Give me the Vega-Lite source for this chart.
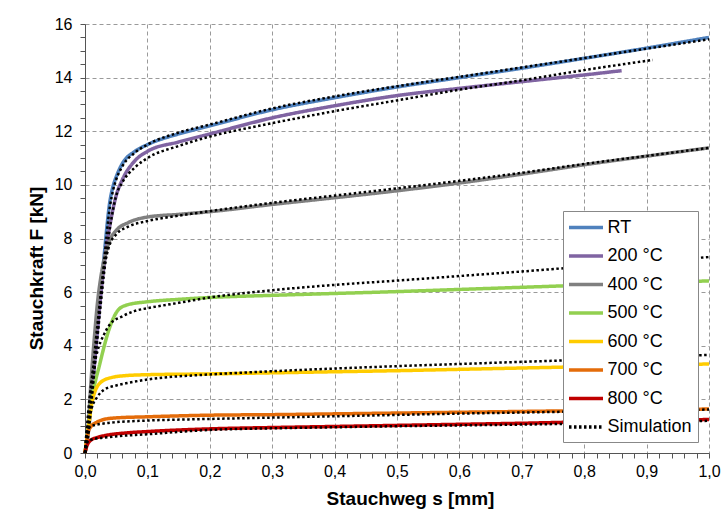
{
  "$schema": "https://vega.github.io/schema/vega-lite/v6.json",
  "width": 624,
  "height": 429,
  "autosize": {"type": "none"},
  "padding": {"left": 85, "top": 24, "right": 14, "bottom": 67},
  "background": "white",
  "config": {
    "view": {"stroke": null},
    "font": "Liberation Sans"
  },
  "datasets": {
    "exp": [
      {"series":"RT","s":0,"F":0},{"series":"RT","s":0.005,"F":0.9},{"series":"RT","s":0.01,"F":2.1},{"series":"RT","s":0.02,"F":4.7},{"series":"RT","s":0.03,"F":7.2},{"series":"RT","s":0.04,"F":9.4},{"series":"RT","s":0.045,"F":9.95},{"series":"RT","s":0.05,"F":10.3},{"series":"RT","s":0.06,"F":10.8},{"series":"RT","s":0.08,"F":11.25},{"series":"RT","s":0.1,"F":11.5},{"series":"RT","s":0.15,"F":11.9},{"series":"RT","s":0.2,"F":12.2},{"series":"RT","s":0.3,"F":12.8},{"series":"RT","s":0.4,"F":13.25},{"series":"RT","s":0.5,"F":13.65},{"series":"RT","s":0.6,"F":14.0},{"series":"RT","s":0.7,"F":14.35},{"series":"RT","s":0.8,"F":14.72},{"series":"RT","s":0.9,"F":15.1},{"series":"RT","s":1.0,"F":15.5},
      {"series":"200 °C","s":0,"F":0},{"series":"200 °C","s":0.005,"F":0.7},{"series":"200 °C","s":0.01,"F":1.9},{"series":"200 °C","s":0.02,"F":4.6},{"series":"200 °C","s":0.03,"F":6.9},{"series":"200 °C","s":0.04,"F":8.5},{"series":"200 °C","s":0.05,"F":9.6},{"series":"200 °C","s":0.06,"F":10.2},{"series":"200 °C","s":0.08,"F":10.9},{"series":"200 °C","s":0.1,"F":11.25},{"series":"200 °C","s":0.15,"F":11.6},{"series":"200 °C","s":0.2,"F":11.9},{"series":"200 °C","s":0.3,"F":12.5},{"series":"200 °C","s":0.4,"F":12.95},{"series":"200 °C","s":0.5,"F":13.33},{"series":"200 °C","s":0.6,"F":13.6},{"series":"200 °C","s":0.7,"F":13.85},{"series":"200 °C","s":0.8,"F":14.1},{"series":"200 °C","s":0.86,"F":14.26},
      {"series":"400 °C","s":0,"F":0},{"series":"400 °C","s":0.005,"F":1.0},{"series":"400 °C","s":0.01,"F":2.8},{"series":"400 °C","s":0.015,"F":4.3},{"series":"400 °C","s":0.02,"F":5.6},{"series":"400 °C","s":0.025,"F":6.5},{"series":"400 °C","s":0.03,"F":7.15},{"series":"400 °C","s":0.035,"F":7.6},{"series":"400 °C","s":0.04,"F":7.95},{"series":"400 °C","s":0.05,"F":8.3},{"series":"400 °C","s":0.07,"F":8.6},{"series":"400 °C","s":0.1,"F":8.8},{"series":"400 °C","s":0.15,"F":8.9},{"series":"400 °C","s":0.2,"F":9.0},{"series":"400 °C","s":0.3,"F":9.27},{"series":"400 °C","s":0.4,"F":9.52},{"series":"400 °C","s":0.5,"F":9.78},{"series":"400 °C","s":0.6,"F":10.07},{"series":"400 °C","s":0.7,"F":10.4},{"series":"400 °C","s":0.8,"F":10.75},{"series":"400 °C","s":0.9,"F":11.07},{"series":"400 °C","s":1.0,"F":11.38},
      {"series":"500 °C","s":0,"F":0},{"series":"500 °C","s":0.005,"F":0.9},{"series":"500 °C","s":0.011,"F":1.98},{"series":"500 °C","s":0.024,"F":3.35},{"series":"500 °C","s":0.04,"F":4.71},{"series":"500 °C","s":0.053,"F":5.33},{"series":"500 °C","s":0.067,"F":5.52},{"series":"500 °C","s":0.1,"F":5.64},{"series":"500 °C","s":0.15,"F":5.73},{"series":"500 °C","s":0.2,"F":5.8},{"series":"500 °C","s":0.3,"F":5.88},{"series":"500 °C","s":0.4,"F":5.95},{"series":"500 °C","s":0.5,"F":6.02},{"series":"500 °C","s":0.6,"F":6.1},{"series":"500 °C","s":0.7,"F":6.18},{"series":"500 °C","s":0.8,"F":6.26},{"series":"500 °C","s":0.9,"F":6.34},{"series":"500 °C","s":1.0,"F":6.42},
      {"series":"600 °C","s":0,"F":0},{"series":"600 °C","s":0.003,"F":0.48},{"series":"600 °C","s":0.011,"F":1.86},{"series":"600 °C","s":0.024,"F":2.61},{"series":"600 °C","s":0.04,"F":2.8},{"series":"600 °C","s":0.067,"F":2.89},{"series":"600 °C","s":0.1,"F":2.92},{"series":"600 °C","s":0.2,"F":2.95},{"series":"600 °C","s":0.3,"F":2.99},{"series":"600 °C","s":0.4,"F":3.03},{"series":"600 °C","s":0.5,"F":3.07},{"series":"600 °C","s":0.6,"F":3.12},{"series":"600 °C","s":0.7,"F":3.17},{"series":"600 °C","s":0.8,"F":3.22},{"series":"600 °C","s":0.9,"F":3.27},{"series":"600 °C","s":1.0,"F":3.32},
      {"series":"700 °C","s":0,"F":0},{"series":"700 °C","s":0.002,"F":0.3},{"series":"700 °C","s":0.005,"F":0.77},{"series":"700 °C","s":0.01,"F":1.0},{"series":"700 °C","s":0.019,"F":1.15},{"series":"700 °C","s":0.03,"F":1.25},{"series":"700 °C","s":0.05,"F":1.31},{"series":"700 °C","s":0.1,"F":1.35},{"series":"700 °C","s":0.2,"F":1.41},{"series":"700 °C","s":0.3,"F":1.43},{"series":"700 °C","s":0.4,"F":1.46},{"series":"700 °C","s":0.5,"F":1.49},{"series":"700 °C","s":0.6,"F":1.52},{"series":"700 °C","s":0.7,"F":1.55},{"series":"700 °C","s":0.8,"F":1.58},{"series":"700 °C","s":0.9,"F":1.61},{"series":"700 °C","s":1.0,"F":1.64},
      {"series":"800 °C","s":0,"F":0},{"series":"800 °C","s":0.002,"F":0.2},{"series":"800 °C","s":0.01,"F":0.49},{"series":"800 °C","s":0.02,"F":0.58},{"series":"800 °C","s":0.032,"F":0.65},{"series":"800 °C","s":0.067,"F":0.75},{"series":"800 °C","s":0.1,"F":0.8},{"series":"800 °C","s":0.2,"F":0.9},{"series":"800 °C","s":0.3,"F":0.95},{"series":"800 °C","s":0.4,"F":0.99},{"series":"800 °C","s":0.5,"F":1.03},{"series":"800 °C","s":0.6,"F":1.07},{"series":"800 °C","s":0.7,"F":1.11},{"series":"800 °C","s":0.8,"F":1.16},{"series":"800 °C","s":0.9,"F":1.2},{"series":"800 °C","s":1.0,"F":1.25}
    ],
    "sim": [
      {"series":"Simulation","case":"RT","s":0,"F":0},{"series":"Simulation","case":"RT","s":0.005,"F":0.8},{"series":"Simulation","case":"RT","s":0.01,"F":2.0},{"series":"Simulation","case":"RT","s":0.02,"F":4.5},{"series":"Simulation","case":"RT","s":0.03,"F":7.0},{"series":"Simulation","case":"RT","s":0.04,"F":9.2},{"series":"Simulation","case":"RT","s":0.045,"F":9.8},{"series":"Simulation","case":"RT","s":0.05,"F":10.2},{"series":"Simulation","case":"RT","s":0.06,"F":10.7},{"series":"Simulation","case":"RT","s":0.08,"F":11.2},{"series":"Simulation","case":"RT","s":0.1,"F":11.5},{"series":"Simulation","case":"RT","s":0.15,"F":11.95},{"series":"Simulation","case":"RT","s":0.2,"F":12.25},{"series":"Simulation","case":"RT","s":0.3,"F":12.85},{"series":"Simulation","case":"RT","s":0.4,"F":13.3},{"series":"Simulation","case":"RT","s":0.5,"F":13.68},{"series":"Simulation","case":"RT","s":0.6,"F":14.03},{"series":"Simulation","case":"RT","s":0.7,"F":14.38},{"series":"Simulation","case":"RT","s":0.8,"F":14.73},{"series":"Simulation","case":"RT","s":0.9,"F":15.08},{"series":"Simulation","case":"RT","s":1.0,"F":15.43},
      {"series":"Simulation","case":"200","s":0,"F":0},{"series":"Simulation","case":"200","s":0.005,"F":0.6},{"series":"Simulation","case":"200","s":0.01,"F":1.8},{"series":"Simulation","case":"200","s":0.02,"F":4.3},{"series":"Simulation","case":"200","s":0.03,"F":6.6},{"series":"Simulation","case":"200","s":0.04,"F":8.4},{"series":"Simulation","case":"200","s":0.05,"F":9.6},{"series":"Simulation","case":"200","s":0.06,"F":10.1},{"series":"Simulation","case":"200","s":0.08,"F":10.65},{"series":"Simulation","case":"200","s":0.1,"F":11.0},{"series":"Simulation","case":"200","s":0.15,"F":11.45},{"series":"Simulation","case":"200","s":0.2,"F":11.8},{"series":"Simulation","case":"200","s":0.3,"F":12.3},{"series":"Simulation","case":"200","s":0.4,"F":12.75},{"series":"Simulation","case":"200","s":0.5,"F":13.15},{"series":"Simulation","case":"200","s":0.6,"F":13.55},{"series":"Simulation","case":"200","s":0.7,"F":13.9},{"series":"Simulation","case":"200","s":0.8,"F":14.28},{"series":"Simulation","case":"200","s":0.91,"F":14.66},
      {"series":"Simulation","case":"400","s":0,"F":0},{"series":"Simulation","case":"400","s":0.005,"F":1.1},{"series":"Simulation","case":"400","s":0.01,"F":2.4},{"series":"Simulation","case":"400","s":0.02,"F":4.8},{"series":"Simulation","case":"400","s":0.03,"F":6.8},{"series":"Simulation","case":"400","s":0.04,"F":7.8},{"series":"Simulation","case":"400","s":0.05,"F":8.15},{"series":"Simulation","case":"400","s":0.07,"F":8.45},{"series":"Simulation","case":"400","s":0.1,"F":8.65},{"series":"Simulation","case":"400","s":0.15,"F":8.85},{"series":"Simulation","case":"400","s":0.2,"F":9.02},{"series":"Simulation","case":"400","s":0.3,"F":9.33},{"series":"Simulation","case":"400","s":0.4,"F":9.6},{"series":"Simulation","case":"400","s":0.5,"F":9.87},{"series":"Simulation","case":"400","s":0.6,"F":10.15},{"series":"Simulation","case":"400","s":0.7,"F":10.45},{"series":"Simulation","case":"400","s":0.8,"F":10.78},{"series":"Simulation","case":"400","s":0.9,"F":11.08},{"series":"Simulation","case":"400","s":1.0,"F":11.38},
      {"series":"Simulation","case":"500","s":0,"F":0},{"series":"Simulation","case":"500","s":0.005,"F":1.5},{"series":"Simulation","case":"500","s":0.01,"F":2.6},{"series":"Simulation","case":"500","s":0.02,"F":3.8},{"series":"Simulation","case":"500","s":0.03,"F":4.4},{"series":"Simulation","case":"500","s":0.04,"F":4.8},{"series":"Simulation","case":"500","s":0.06,"F":5.1},{"series":"Simulation","case":"500","s":0.08,"F":5.3},{"series":"Simulation","case":"500","s":0.1,"F":5.4},{"series":"Simulation","case":"500","s":0.15,"F":5.6},{"series":"Simulation","case":"500","s":0.2,"F":5.8},{"series":"Simulation","case":"500","s":0.3,"F":6.07},{"series":"Simulation","case":"500","s":0.4,"F":6.27},{"series":"Simulation","case":"500","s":0.5,"F":6.43},{"series":"Simulation","case":"500","s":0.6,"F":6.6},{"series":"Simulation","case":"500","s":0.7,"F":6.77},{"series":"Simulation","case":"500","s":0.8,"F":6.95},{"series":"Simulation","case":"500","s":0.9,"F":7.13},{"series":"Simulation","case":"500","s":1.0,"F":7.31},
      {"series":"Simulation","case":"600","s":0,"F":0},{"series":"Simulation","case":"600","s":0.005,"F":1.0},{"series":"Simulation","case":"600","s":0.01,"F":1.6},{"series":"Simulation","case":"600","s":0.02,"F":2.1},{"series":"Simulation","case":"600","s":0.03,"F":2.35},{"series":"Simulation","case":"600","s":0.05,"F":2.52},{"series":"Simulation","case":"600","s":0.07,"F":2.62},{"series":"Simulation","case":"600","s":0.1,"F":2.74},{"series":"Simulation","case":"600","s":0.2,"F":2.93},{"series":"Simulation","case":"600","s":0.3,"F":3.05},{"series":"Simulation","case":"600","s":0.4,"F":3.15},{"series":"Simulation","case":"600","s":0.5,"F":3.24},{"series":"Simulation","case":"600","s":0.6,"F":3.32},{"series":"Simulation","case":"600","s":0.7,"F":3.4},{"series":"Simulation","case":"600","s":0.8,"F":3.48},{"series":"Simulation","case":"600","s":0.9,"F":3.57},{"series":"Simulation","case":"600","s":1.0,"F":3.66},
      {"series":"Simulation","case":"700","s":0,"F":0},{"series":"Simulation","case":"700","s":0.003,"F":0.8},{"series":"Simulation","case":"700","s":0.01,"F":1.0},{"series":"Simulation","case":"700","s":0.03,"F":1.1},{"series":"Simulation","case":"700","s":0.05,"F":1.15},{"series":"Simulation","case":"700","s":0.1,"F":1.21},{"series":"Simulation","case":"700","s":0.2,"F":1.27},{"series":"Simulation","case":"700","s":0.3,"F":1.32},{"series":"Simulation","case":"700","s":0.4,"F":1.37},{"series":"Simulation","case":"700","s":0.5,"F":1.42},{"series":"Simulation","case":"700","s":0.6,"F":1.47},{"series":"Simulation","case":"700","s":0.7,"F":1.51},{"series":"Simulation","case":"700","s":0.8,"F":1.55},{"series":"Simulation","case":"700","s":0.9,"F":1.59},{"series":"Simulation","case":"700","s":1.0,"F":1.62},
      {"series":"Simulation","case":"800","s":0,"F":0},{"series":"Simulation","case":"800","s":0.003,"F":0.4},{"series":"Simulation","case":"800","s":0.01,"F":0.5},{"series":"Simulation","case":"800","s":0.04,"F":0.6},{"series":"Simulation","case":"800","s":0.1,"F":0.7},{"series":"Simulation","case":"800","s":0.2,"F":0.86},{"series":"Simulation","case":"800","s":0.3,"F":0.92},{"series":"Simulation","case":"800","s":0.4,"F":0.96},{"series":"Simulation","case":"800","s":0.5,"F":1.0},{"series":"Simulation","case":"800","s":0.6,"F":1.03},{"series":"Simulation","case":"800","s":0.7,"F":1.06},{"series":"Simulation","case":"800","s":0.8,"F":1.1},{"series":"Simulation","case":"800","s":0.9,"F":1.15},{"series":"Simulation","case":"800","s":1.0,"F":1.2}
    ]
  },
  "encoding": {
    "x": {
      "field": "s", "type": "quantitative",
      "scale": {"domain": [0, 1], "nice": false, "zero": false},
      "axis": {
        "title": "Stauchweg  s [mm]",
        "values": [0,0.02,0.04,0.06,0.08,0.1,0.12,0.14,0.16,0.18,0.2,0.22,0.24,0.26,0.28,0.3,0.32,0.34,0.36,0.38,0.4,0.42,0.44,0.46,0.48,0.5,0.52,0.54,0.56,0.58,0.6,0.62,0.64,0.66,0.68,0.7,0.72,0.74,0.76,0.78,0.8,0.82,0.84,0.86,0.88,0.9,0.92,0.94,0.96,0.98,1.0],
        "labelExpr": "abs(datum.value*10 - round(datum.value*10)) < 0.001 ? replace(format(datum.value, '.1f'), '.', ',') : ''",
        "labelOverlap": false, "labelFlush": false, "labelBound": false,
        "labelFont": "Liberation Sans", "labelFontSize": 16, "labelColor": "#000", "labelPadding": 5,
        "tickSize": 5, "tickColor": "#555", "domainColor": "#555",
        "grid": true, "gridDash": [4, 3], "gridColor": "#9a9a9a", "gridWidth": 1,
        "gridOpacity": {"condition": {"test": "abs(datum.value*10 - round(datum.value*10)) < 0.001", "value": 1}, "value": 0},
        "titleFont": "Liberation Sans", "titleFontSize": 19, "titleFontWeight": "bold", "titleColor": "#000", "titlePadding": 10,
        "titleX": 325
      }
    },
    "y": {
      "field": "F", "type": "quantitative",
      "scale": {"domain": [0, 16], "nice": false},
      "axis": {
        "title": "Stauchkraft F [kN]",
        "values": [0,0.5,1,1.5,2,2.5,3,3.5,4,4.5,5,5.5,6,6.5,7,7.5,8,8.5,9,9.5,10,10.5,11,11.5,12,12.5,13,13.5,14,14.5,15,15.5,16],
        "labelExpr": "datum.value % 2 == 0 ? format(datum.value, 'd') : ''",
        "labelOverlap": false, "labelFlush": false, "labelBound": false,
        "labelFont": "Liberation Sans", "labelFontSize": 16, "labelColor": "#000", "labelPadding": 8,
        "tickSize": 5, "tickColor": "#555", "domainColor": "#555",
        "grid": true, "gridDash": [4, 3], "gridColor": "#9a9a9a", "gridWidth": 1,
        "gridOpacity": {"condition": {"test": "datum.value % 2 == 0", "value": 1}, "value": 0},
        "titleFont": "Liberation Sans", "titleFontSize": 19, "titleFontWeight": "bold", "titleColor": "#000", "titlePadding": 8,
        "titleY": 244
      }
    },
    "color": {
      "field": "series", "type": "nominal",
      "scale": {
        "domain": ["RT", "200 °C", "400 °C", "500 °C", "600 °C", "700 °C", "800 °C", "Simulation"],
        "range": ["#4F81BD", "#8064A2", "#808080", "#92D050", "#FFCC00", "#E46C0A", "#C00000", "#000000"]
      },
      "legend": {
        "title": null, "orient": "bottom-right", "offset": 11, "padding": 6,
        "fillColor": "white", "strokeColor": "#888",
        "symbolType": "M-2,0H2", "symbolSize": 289, "symbolStrokeWidth": 3.5, "symbolOffset": 6.5,
        "labelFont": "Liberation Sans", "labelFontSize": 18, "labelColor": "#000", "labelOffset": 11,
        "rowPadding": 8.5
      }
    },
    "strokeDash": {
      "field": "series", "type": "nominal",
      "scale": {
        "domain": ["RT", "200 °C", "400 °C", "500 °C", "600 °C", "700 °C", "800 °C", "Simulation"],
        "range": [[1, 0], [1, 0], [1, 0], [1, 0], [1, 0], [1, 0], [1, 0], [2.5, 2.5]]
      },
      "legend": {
        "title": null, "orient": "bottom-right", "offset": 11, "padding": 6,
        "fillColor": "white", "strokeColor": "#888",
        "symbolType": "M-2,0H2", "symbolSize": 289, "symbolStrokeWidth": 3.5, "symbolOffset": 6.5,
        "labelFont": "Liberation Sans", "labelFontSize": 18, "labelColor": "#000", "labelOffset": 11,
        "rowPadding": 8.5
      }
    }
  },
  "layer": [
    {
      "data": {"name": "exp"},
      "mark": {"type": "line", "interpolate": "monotone", "strokeWidth": 3.5},
      "encoding": {"order": {"field": "s", "type": "quantitative"}}
    },
    {
      "data": {"name": "sim"},
      "mark": {"type": "line", "interpolate": "monotone", "strokeWidth": 2.5},
      "encoding": {
        "detail": {"field": "case", "type": "nominal"},
        "order": {"field": "s", "type": "quantitative"}
      }
    }
  ]
}
